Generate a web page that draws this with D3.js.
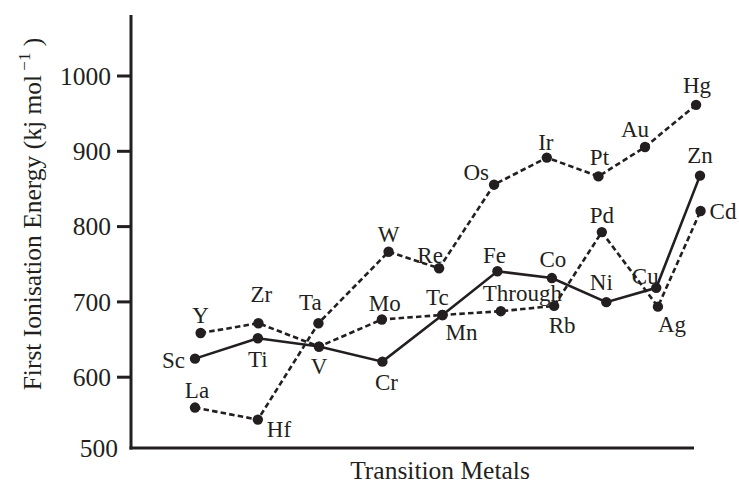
<!DOCTYPE html>
<html>
<head>
<meta charset="utf-8">
<script src="https://cdn.jsdelivr.net/npm/d3@7"></script>
<style>
  html, body { margin: 0; padding: 0; background: #fff; }
  svg { display: block; }
  text { font-family: "Liberation Serif", "DejaVu Serif", serif; fill: #231f20; }
</style>
</head>
<body>
<svg id="chart" width="739" height="485"></svg>
<script>
// ---- data ----
const yTicks = [600, 700, 800, 900, 1000];
const baseTick = 500;

// 3d series (solid)
const names3d = ["Sc", "Ti", "V", "Cr", "Mn", "Fe", "Co", "Ni", "Cu", "Zn"];
const col3d   = [0, 1.12, 2.21, 3.34, 4.41, 5.39, 6.36, 7.33, 8.22, 9.0];
const ie3d    = [624, 651, 640, 620, 682, 740, 731, 699, 718, 867];

// 4d series (dashed)
const names4d = ["Y", "Zr", "Nb", "Mo", "Tc", "Through", "Rb", "Pd", "Ag", "Cd"];
const col4d   = [0.10, 1.13, 2.21, 3.33, 4.41, 5.45, 6.40, 7.25, 8.25, 9.01];
const ie4d    = [658, 671, 640, 676, 682, 687, 694, 792, 693, 820];

// 5d series (dashed)
const names5d = ["La", "Hf", "Ta", "W", "Re", "Os", "Ir", "Pt", "Au", "Hg"];
const col5d   = [0, 1.12, 2.20, 3.45, 4.35, 5.33, 6.27, 7.19, 8.02, 8.93];
const ie5d    = [559, 543, 671, 766, 744, 855, 891, 866, 905, 961];

const xTitle = "Transition Metals";
const yTitle = "First Ionisation Energy (kj mol";

// ---- drawing ----
const ink = "#231f20";
const svg = d3.select("#chart");

const x = d3.scaleLinear().domain([0, 9]).range([195, 700]);
const y = d3.scaleLinear().domain([500, 1000]).range([452, 75.5]);

const axisX0 = 131, axisX1 = 694, axisYTop = 15, axisYBottom = 448;

// axes lines
svg.append("line").attr("x1", axisX0).attr("x2", axisX0)
  .attr("y1", axisYTop).attr("y2", axisYBottom + 1.5)
  .attr("stroke", ink).attr("stroke-width", 3);
svg.append("line").attr("x1", axisX0 - 1.5).attr("x2", axisX1)
  .attr("y1", axisYBottom).attr("y2", axisYBottom)
  .attr("stroke", ink).attr("stroke-width", 3);

// y axis ticks via d3 axis
const yAxis = d3.axisLeft(y).tickValues(yTicks).tickSize(14).tickPadding(6).tickFormat(d3.format("d"));
const gy = svg.append("g").attr("transform", `translate(${axisX0},0)`).call(yAxis);
gy.select(".domain").remove();
gy.selectAll(".tick line").attr("stroke", ink).attr("stroke-width", 3);
gy.selectAll(".tick text")
  .attr("font-family", '"Liberation Serif", serif')
  .attr("font-size", 25.5).attr("fill", ink).attr("dy", "0.34em");

svg.append("text").attr("x", 118).attr("y", axisYBottom).attr("dy", "0.34em")
  .attr("text-anchor", "end").attr("font-size", 25.5).text(baseTick);

// axis titles
svg.append("text").attr("x", 440).attr("y", 479).attr("text-anchor", "middle")
  .attr("font-size", 25.5).text(xTitle);

const yt = svg.append("text")
  .attr("transform", "translate(41,214) rotate(-90)")
  .attr("text-anchor", "middle").attr("font-size", 25.5);
yt.append("tspan").text(yTitle);
yt.append("tspan").attr("font-size", 17).attr("dy", -11).text(" \u22121");
yt.append("tspan").attr("dy", 11).text(" )");

// series
const series = [
  { names: names5d, cols: col5d, vals: ie5d, dash: "5.5,3.2" },
  { names: names4d, cols: col4d, vals: ie4d, dash: "5.5,3.2" },
  { names: names3d, cols: col3d, vals: ie3d, dash: null }
];

const line = d3.line().x(d => x(d.c)).y(d => y(d.v));

series.forEach(s => {
  const pts = s.names.map((n, i) => ({ n, c: s.cols[i], v: s.vals[i] }));
  svg.append("path").datum(pts).attr("d", line)
    .attr("fill", "none").attr("stroke", ink).attr("stroke-width", 2.6)
    .attr("stroke-dasharray", s.dash);
  svg.selectAll(null).data(pts).enter().append("circle")
    .attr("cx", d => x(d.c)).attr("cy", d => y(d.v)).attr("r", 5.2)
    .attr("fill", ink);
});

// label placement (anchor, dx, dy to baseline)
const place = {
  Sc: ["end", -10, 9], Ti: ["middle", 0, 29], V: ["middle", 0, 27], Cr: ["middle", 4, 28],
  Mn: ["start", 3, 25], Fe: ["middle", -3, -8], Co: ["middle", 1, -11], Ni: ["middle", -5, -12],
  Cu: ["middle", -11, -4], Zn: ["middle", 0, -13],
  Y: ["middle", 0, -10], Zr: ["middle", 3, -21], Mo: ["middle", 3, -8], Tc: ["middle", -5, -10],
  Through: ["start", -18, -10], Rb: ["middle", 8, 27], Pd: ["middle", 0, -9], Ag: ["start", 0, 25],
  Cd: ["start", 9, 8],
  La: ["middle", 2, -10], Hf: ["start", 9, 17], Ta: ["middle", -8, -13], W: ["middle", 0, -10],
  Re: ["middle", -9, -5], Os: ["end", -5, -5], Ir: ["middle", -1, -8], Pt: ["middle", 1, -11],
  Au: ["middle", -10, -10], Hg: ["middle", 1, -12]
};

series.forEach(s => {
  s.names.forEach((n, i) => {
    const p = place[n];
    if (!p) return;
    svg.append("text")
      .attr("x", x(s.cols[i]) + p[1]).attr("y", y(s.vals[i]) + p[2])
      .attr("text-anchor", p[0]).attr("font-size", 23).text(n);
  });
});
</script>
</body>
</html>
